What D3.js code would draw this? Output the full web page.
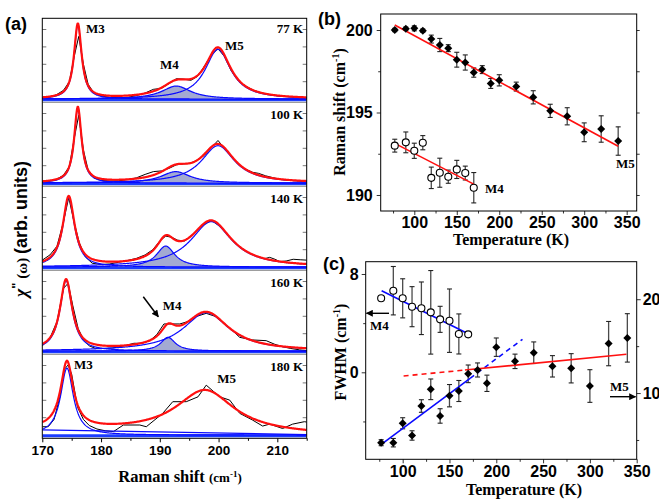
<!DOCTYPE html>
<html><head><meta charset="utf-8">
<script src="https://cdn.jsdelivr.net/npm/d3@7"></script>
<style>body{margin:0;background:#fff}svg{display:block}</style>
</head><body>
<svg id="chart" width="659" height="501"></svg>
<script>
// ---------------- DATA ----------------
// Panel (a): measured spectra [Raman shift, chi'' (arb.)]
const spec77=[[170,0.05],[171.2,0.1],[172.4,0.25],[173.6,0.5],[174.6,1.0],[175.4,2.4],[176.2,3.6],[177,2.0],[177.8,0.85],[178.8,0.35],[180,0.18],[181.5,0.1],[183,0.08],[184.5,0.1],[186,0.2],[187.5,0.35],[188.9,0.56],[190.3,0.62],[191.6,0.9],[192.8,1.17],[194,1.15],[195.3,1.08],[196.4,1.3],[197.5,1.85],[198.7,2.5],[199.9,2.9],[201,2.45],[202.2,1.6],[203.4,1.05],[204.6,0.75],[206,0.5],[207.4,0.35],[208.8,0.25],[210.2,0.18],[211.6,0.15],[213,0.1],[214.4,0.08],[215,0.07]];
const spec100=[[170,0.05],[171.2,0.12],[172.4,0.22],[173.6,0.45],[174.6,0.95],[175.4,2.5],[176.2,3.9],[177,1.9],[177.8,0.75],[178.8,0.3],[180,0.15],[181.5,0.12],[183,0.13],[184.5,0.2],[186,0.3],[187.5,0.5],[188.9,0.66],[190.3,0.7],[191.6,0.85],[192.8,1.05],[194,1.1],[195.3,1.15],[196.5,1.35],[197.6,1.6],[198.8,2.05],[199.9,2.45],[201,2.0],[202.2,1.55],[203.4,1.05],[204.6,0.8],[205.8,0.62],[206.8,0.56],[208,0.42],[209.4,0.3],[210.8,0.2],[212.2,0.16],[213.6,0.12],[215,0.1]];
const spec140=[[170,0.4],[171.3,0.7],[172.5,1.2],[173.6,2.6],[174.5,4.0],[175.4,2.6],[176.3,1.4],[177.3,0.6],[178.5,0.22],[180,0.15],[181.5,0.18],[183,0.28],[184.5,0.38],[186,0.5],[187.5,0.7],[188.8,1.0],[190,1.5],[191,1.78],[192,1.72],[193,1.55],[194.2,1.5],[195.5,1.85],[197,2.35],[198.8,2.68],[200.4,2.3],[202,1.7],[203.5,1.2],[205,0.85],[206.5,0.62],[207.8,0.48],[208.7,0.56],[209.6,0.45],[210.4,0.32],[211.5,0.35],[212.7,0.45],[214,0.42],[215,0.4]];
const spec160=[[170,0.3],[171.3,0.75],[172.5,1.7],[173.6,3.6],[174.4,3.9],[175.2,2.6],[176.1,1.3],[177.1,0.6],[178,0.3],[179,0.16],[180.5,0.15],[182,0.18],[183.9,0.3],[185.6,0.45],[187,0.45],[188.3,0.6],[189.5,0.95],[190.7,1.56],[192,1.56],[193.4,1.56],[194.8,1.7],[196.3,2.0],[197.9,2.17],[199.4,2.0],[200.8,1.65],[202.3,1.2],[203.6,0.79],[205.8,0.64],[208.1,0.6],[209.5,0.4],[210.9,0.25],[212.3,0.15],[213.8,0.07],[215,0.03]];
const spec180=[[170,0.48],[171,0.48],[172,0.9],[173,2.2],[173.8,3.8],[174.4,4.03],[175,3.5],[176,1.6],[177,0.9],[178,0.55],[179.3,0.35],[180.7,0.25],[182.1,0.2],[183.8,0.58],[186.6,0.58],[187.7,0.48],[190.5,1.25],[192.2,1.92],[194.5,1.92],[196.5,2.2],[197.9,2.87],[200.2,2.2],[201.9,2.01],[203.6,1.25],[205.8,0.86],[207.5,0.52],[208.7,0.63],[210.9,0.38],[212.6,0.63],[214.6,0.77],[215,0.75]];
const spectra=[spec77,spec100,spec140,spec160,spec180];
const tempLabels=["77 K","100 K","140 K","160 K","180 K"];
// Lorentzian fit parameters: centre, FWHM, height
const fitM3=[{c:176.05,w:1.55,a:4.3},{c:176.05,w:1.5,a:4.33},{c:174.5,w:2.4,a:4.0},{c:174.05,w:2.5,a:4.05},{c:174.2,w:2.6,a:3.85}];
const fitM4=[{c:192.8,w:6.0,a:0.75},{c:192.7,w:6.0,a:0.66},{c:191.0,w:3.8,a:1.21},{c:191.4,w:3.0,a:0.79},null];
const fitM5=[{c:199.9,w:5.3,a:2.86},{c:199.9,w:6.9,a:2.15},{c:198.76,w:8.5,a:2.61},{c:197.9,w:9.5,a:2.21},{c:197.7,w:12,a:2.45}];
const showM5Component=[true,true,true,true,false];
const fitBg=[[0,0],[0,0],[0,0],[0,0],[0.3,0.03]];
const ramanTicks=[170,180,190,200,210];

// Panel (b): Raman shift vs temperature
const tempM5=[77,90,100,110,120,130,140,150,160,170,180,190,200,220,240,260,280,300,320,340];
const shiftM5=[200.0,200.08,200.1,199.96,199.45,199.09,198.9,198.2,198.03,197.42,197.6,196.76,196.95,196.57,195.92,195.1,194.77,193.8,194.0,193.27];
const shiftM5Err=[0.1,0.1,0.15,0.1,0.24,0.4,0.21,0.45,0.46,0.28,0.24,0.3,0.34,0.27,0.4,0.4,0.52,0.57,0.8,0.86];
const tempM4=[77,90,100,110,120,130,140,150,160,170];
const shiftM4=[192.99,193.19,192.68,193.17,191.04,191.35,191.11,191.55,191.33,190.44];
const shiftM4Err=[0.39,0.63,0.46,0.43,0.65,0.88,0.4,0.55,0.42,0.92];
const shiftFitM5=[[77,200.3],[340,192.95]];
const shiftFitM4=[[77,193.13],[170,190.66]];
const tempTicks=[100,150,200,250,300,350];

// Panel (c): FWHM vs temperature
const fwhmM4=[6.02,6.64,6.02,5.34,5.21,4.88,4.31,4.2,3.12,3.09];
const fwhmM4Err=[0,1.97,1.59,1.63,2.14,3.4,1.06,2.58,1.63,0];
const fwhmM5=[4.71,4.71,6.78,5.48,8.62,10.4,7.56,9.72,10.22,12.05,12.46,11.04,14.89,13.38,14.3,12.85,12.64,10.75,15.27,15.88];
const fwhmM5Err=[0.32,0.45,0.59,0.5,0.67,1.1,0.77,1.19,1.12,0.94,0.75,0.87,0.98,0.77,1.15,1.14,1.56,1.74,2.36,2.58];
const fwhmFitM4=[[77.5,6.64],[170.5,3.12]];
const fwhmFitM5lowSolid=[[76.5,4.47],[172,11.57]];
const fwhmFitM5lowDash=[[172,11.57],[228,15.73]];
const fwhmFitM5highDash=[[101,11.82],[166.5,12.45]];
const fwhmFitM5highSolid=[[166.5,12.45],[339,14.13]];

// ---------------- DRAWING ----------------
const svg=d3.select("#chart");
const defs=svg.append("defs");
const SANS="'Liberation Sans', Arial, sans-serif";
const SERIF="'Liberation Serif', 'Times New Roman', serif";
const RED="#ff1010", BLUE="#0a0aff", BASEBLUE="#1b3cff", SHADE="#a3aad2", GRAY="#4a4a4a";

defs.append("marker").attr("id","arr").attr("viewBox","0 0 10 10").attr("refX",9).attr("refY",5)
  .attr("markerUnits","userSpaceOnUse").attr("markerWidth",9).attr("markerHeight",7).attr("orient","auto")
  .append("path").attr("d","M0,0L10,5L0,10z").attr("fill","#000");

function txt(g,x,y,s,o={}){
  return g.append("text").attr("x",x).attr("y",y).text(s)
    .attr("font-family",o.ff||SERIF).attr("font-weight",o.fw||"bold")
    .attr("font-size",o.fs||13).attr("text-anchor",o.anchor||"start").attr("fill","#000");
}

// ===== Panel (a) =====
const xA=d3.scaleLinear().domain([170,215]).range([42.3,306.7]);
const subTop=18.3, subH=84;
const lor=(p,x)=>p?p.a/(1+Math.pow(2*(x-p.c)/p.w,2)):0;
const grid=d3.range(170,215.0001,0.1);
const gA=svg.append("g");
spectra.forEach((spec,i)=>{
  const t=subTop+subH*i, b=t+subH;
  const y=d3.scaleLinear().domain([-0.184,4.644]).range([b,t]);
  defs.append("clipPath").attr("id","clipA"+i).append("rect")
    .attr("x",xA(170)).attr("y",t).attr("width",xA(215)-xA(170)).attr("height",subH);
  const g=gA.append("g").attr("clip-path",`url(#clipA${i})`);
  const bg=x=>fitBg[i][0]+(fitBg[i][1]-fitBg[i][0])*(x-170)/45;
  const line=d3.line().x(d=>xA(d[0])).y(d=>y(d[1]));
  // thick baseline
  g.append("line").attr("x1",xA(170)).attr("x2",xA(215)).attr("y1",y(-0.04)).attr("y2",y(-0.04))
    .attr("stroke",BASEBLUE).attr("stroke-width",3);
  // shaded M4
  if(fitM4[i]){
    const area=d3.area().x(d=>xA(d)).y0(y(0)).y1(d=>y(lor(fitM4[i],d)));
    g.append("path").attr("d",area(grid)).attr("fill",SHADE);
  }
  // measured data
  g.append("path").attr("d",line(spec)).attr("fill","none").attr("stroke","#000").attr("stroke-width",1);
  // blue components
  [fitM3[i],fitM4[i]].forEach(p=>{ if(!p) return;
    g.append("path").attr("d",line(grid.map(x=>[x,lor(p,x)]))).attr("fill","none").attr("stroke",BLUE).attr("stroke-width",1.2);
  });
  if(showM5Component[i]){
    g.append("path").attr("d",line(grid.map(x=>[x,lor(fitM5[i],x)+bg(x)]))).attr("fill","none").attr("stroke",BLUE).attr("stroke-width",1.2);
  }
  if(fitBg[i][0]!==0){
    g.append("path").attr("d",line([[170,bg(170)],[215,bg(215)]])).attr("fill","none").attr("stroke",BLUE).attr("stroke-width",1.2);
  }
  // red total fit
  g.append("path").attr("d",line(grid.map(x=>[x,lor(fitM3[i],x)+lor(fitM4[i],x)+lor(fitM5[i],x)+bg(x)])))
    .attr("fill","none").attr("stroke",RED).attr("stroke-width",2.2).attr("stroke-linejoin","round");
  // inner ticks
  [1,2,3,4].forEach(v=>{
    gA.append("line").attr("x1",xA(170)).attr("x2",xA(170)+4).attr("y1",y(v)).attr("y2",y(v)).attr("stroke","#555").attr("stroke-width",0.8);
    gA.append("line").attr("x1",xA(215)).attr("x2",xA(215)-4).attr("y1",y(v)).attr("y2",y(v)).attr("stroke","#555").attr("stroke-width",0.8);
  });
  if(i<4) gA.append("line").attr("x1",xA(170)).attr("x2",xA(215)).attr("y1",b).attr("y2",b).attr("stroke","#666").attr("stroke-width",0.8);
  txt(gA,303,t+(i===0?15:16.3),tempLabels[i],{anchor:"end",fs:13});
});
gA.append("rect").attr("x",xA(170)).attr("y",subTop).attr("width",xA(215)-xA(170)).attr("height",subH*5)
  .attr("fill","none").attr("stroke","#000").attr("stroke-width",1);
// x axis
const axA=gA.append("g").attr("transform",`translate(0,${subTop+subH*5})`)
  .call(d3.axisBottom(xA).tickValues(ramanTicks).tickSize(4).tickPadding(3).tickFormat(d3.format("d")));
axA.select(".domain").remove();
axA.selectAll("text").attr("font-family",SANS).attr("font-weight","bold").attr("font-size",13.5).attr("fill","#000");
gA.append("g").attr("transform",`translate(0,${subTop+subH*5})`)
  .call(d3.axisBottom(xA).tickValues([175,185,195,205,215]).tickSize(2.5).tickFormat("")).select(".domain").remove();
// labels in (a)
txt(gA,86,33,"M3");
txt(gA,160,69,"M4");
txt(gA,225,50,"M5");
txt(gA,162.7,310,"M4");
gA.append("line").attr("x1",143.3).attr("y1",296.7).attr("x2",158.3).attr("y2",316.7).attr("stroke","#000").attr("stroke-width",1.5).attr("marker-end","url(#arr)");
txt(gA,74,369.3,"M3");
txt(gA,217.3,382.7,"M5");
// axis titles (a)
const tA=txt(gA,180,481.5,"Raman shift ",{fs:16.5,anchor:"middle"});
tA.append("tspan").attr("font-size",13).text("(cm");
tA.append("tspan").attr("font-size",9).attr("dy",-5).text("-1");
tA.append("tspan").attr("font-size",13).attr("dy",5).text(")");
const yl=gA.append("text").attr("transform","translate(27,229) rotate(-90)").attr("text-anchor","middle")
  .attr("font-family",SANS).attr("font-weight","bold").attr("font-size",18);
yl.append("tspan").attr("font-family",SERIF).attr("font-style","italic").text("χ");
yl.append("tspan").attr("font-size",13).attr("dy",-6).text("\"");
yl.append("tspan").attr("dy",6).attr("font-family",SERIF).attr("font-size",15).text(" (ω) ");
yl.append("tspan").text("(arb. units)");
txt(svg,5,30,"(a)",{ff:SANS,fs:18});

// ===== Panel (b) =====
const xB=d3.scaleLinear().domain([60.45,361.8]).range([380.7,636.7]);
const yB=d3.scaleLinear().domain([189.03,200.97]).range([211,14]);
const gB=svg.append("g");
function styleAxis(sel,fs){ sel.select(".domain").remove();
  sel.selectAll("text").attr("font-family",SANS).attr("font-weight","bold").attr("font-size",fs).attr("fill","#000");
  sel.selectAll("line").attr("stroke","#333");}
styleAxis(gB.append("g").attr("transform","translate(0,211)").call(d3.axisBottom(xB).tickValues(tempTicks).tickSize(4).tickPadding(2)),16);
styleAxis(gB.append("g").attr("transform","translate(0,211)").call(d3.axisBottom(xB).tickValues([75,125,175,225,275,325]).tickSize(2.5).tickFormat("")),16);
styleAxis(gB.append("g").attr("transform","translate(380.7,0)").call(d3.axisLeft(yB).tickValues([190,195,200]).tickSize(4).tickPadding(4)),16);
styleAxis(gB.append("g").attr("transform","translate(380.7,0)").call(d3.axisLeft(yB).tickValues([192.5,197.5]).tickSize(2.5).tickFormat("")),16);
styleAxis(gB.append("g").attr("transform","translate(636.7,0)").call(d3.axisRight(yB).tickValues([190,192.5,195,197.5,200]).tickSize(3).tickFormat("")),16);
gB.append("rect").attr("x",380.7).attr("y",14).attr("width",256).attr("height",197).attr("fill","none").attr("stroke","#000");
const lineB=d3.line().x(d=>xB(d[0])).y(d=>yB(d[1]));
function errBars(g,xs,ys,es,xS,yS){
  xs.forEach((t,k)=>{ if(!es[k]) return;
    const x=xS(t), y1=yS(ys[k]-es[k]), y2=yS(ys[k]+es[k]);
    g.append("line").attr("x1",x).attr("x2",x).attr("y1",y1).attr("y2",y2).attr("stroke",GRAY).attr("stroke-width",1.3);
    [y1,y2].forEach(yy=>g.append("line").attr("x1",x-2.5).attr("x2",x+2.5).attr("y1",yy).attr("y2",yy).attr("stroke","#222").attr("stroke-width",1.1));
  });
}
errBars(gB,tempM5,shiftM5,shiftM5Err,xB,yB);
errBars(gB,tempM4,shiftM4,shiftM4Err,xB,yB);
gB.append("path").attr("d",lineB(shiftFitM5)).attr("stroke",RED).attr("stroke-width",1.6).attr("fill","none");
gB.append("path").attr("d",lineB(shiftFitM4)).attr("stroke",RED).attr("stroke-width",1.6).attr("fill","none");
const dia=d3.symbol().type(d3.symbolSquare).size(32);
function diamonds(g,xs,ys,xS,yS){ xs.forEach((t,k)=>g.append("path").attr("d",dia())
  .attr("transform",`translate(${xS(t)},${yS(ys[k])}) rotate(45)`).attr("fill","#000")); }
function circles(g,xs,ys,xS,yS){ xs.forEach((t,k)=>g.append("circle").attr("cx",xS(t)).attr("cy",yS(ys[k])).attr("r",3.5)
  .attr("fill","#fff").attr("stroke","#000").attr("stroke-width",1.1)); }
diamonds(gB,tempM5,shiftM5,xB,yB);
circles(gB,tempM4,shiftM4,xB,yB);
txt(gB,616,168,"M5",{fs:13});
txt(gB,485,192.5,"M4",{fs:13});
txt(gB,511,244.5,"Temperature (K)",{fs:16,anchor:"middle"});
const ylB=gB.append("text").attr("transform","translate(345,112) rotate(-90)").attr("text-anchor","middle")
  .attr("font-family",SERIF).attr("font-weight","bold").attr("font-size",16).text("Raman shift (cm");
ylB.append("tspan").attr("font-size",10).attr("dy",-6).text("-1");
ylB.append("tspan").attr("dy",6).text(")");
txt(svg,318,25,"(b)",{ff:SANS,fs:18});

// ===== Panel (c) =====
const xC=d3.scaleLinear().domain([60.5,350]).range([365.7,636.7]);
const yCL=d3.scaleLinear().domain([-7.08,9.0]).range([459.3,261.7]);
const yCR=d3.scaleLinear().domain([2.94,24.0]).range([459.3,261.7]);
const gC=svg.append("g");
styleAxis(gC.append("g").attr("transform","translate(0,459.3)").call(d3.axisBottom(xC).tickValues(tempTicks).tickSize(4).tickPadding(2)),16);
styleAxis(gC.append("g").attr("transform","translate(0,459.3)").call(d3.axisBottom(xC).tickValues([75,125,175,225,275,325]).tickSize(2.5).tickFormat("")),16);
styleAxis(gC.append("g").attr("transform","translate(365.7,0)").call(d3.axisLeft(yCL).tickValues([0,8]).tickSize(4).tickPadding(3)),16);
styleAxis(gC.append("g").attr("transform","translate(365.7,0)").call(d3.axisLeft(yCL).tickValues([-4,4]).tickSize(2.5).tickFormat("")),16);
styleAxis(gC.append("g").attr("transform","translate(636.7,0)").call(d3.axisRight(yCR).tickValues([10,20]).tickSize(4).tickPadding(2)),16);
styleAxis(gC.append("g").attr("transform","translate(636.7,0)").call(d3.axisRight(yCR).tickValues([5,15]).tickSize(2.5).tickFormat("")),16);
gC.append("rect").attr("x",365.7).attr("y",261.7).attr("width",271).attr("height",197.6).attr("fill","none").attr("stroke","#000");
errBars(gC,tempM4,fwhmM4,fwhmM4Err,xC,yCL);
errBars(gC,tempM5,fwhmM5,fwhmM5Err,xC,yCR);
const lineCL=d3.line().x(d=>xC(d[0])).y(d=>yCL(d[1]));
const lineCR=d3.line().x(d=>xC(d[0])).y(d=>yCR(d[1]));
gC.append("path").attr("d",lineCL(fwhmFitM4)).attr("stroke",BLUE).attr("stroke-width",1.6).attr("fill","none");
gC.append("path").attr("d",lineCR(fwhmFitM5lowSolid)).attr("stroke",BLUE).attr("stroke-width",1.6).attr("fill","none");
gC.append("path").attr("d",lineCR(fwhmFitM5lowDash)).attr("stroke",BLUE).attr("stroke-width",1.6).attr("fill","none").attr("stroke-dasharray","5,4");
gC.append("path").attr("d",lineCR(fwhmFitM5highDash)).attr("stroke",RED).attr("stroke-width",1.6).attr("fill","none").attr("stroke-dasharray","5,4");
gC.append("path").attr("d",lineCR(fwhmFitM5highSolid)).attr("stroke",RED).attr("stroke-width",1.6).attr("fill","none");
circles(gC,tempM4,fwhmM4,xC,yCL);
diamonds(gC,tempM5,fwhmM5,xC,yCR);
txt(gC,370,330,"M4",{fs:13});
gC.append("line").attr("x1",389).attr("y1",313.3).attr("x2",366.5).attr("y2",313.3).attr("stroke","#000").attr("stroke-width",1.4).attr("marker-end","url(#arr)");
txt(gC,610,391,"M5",{fs:13});
gC.append("line").attr("x1",610).attr("y1",396.7).attr("x2",635.5).attr("y2",396.7).attr("stroke","#000").attr("stroke-width",1.4).attr("marker-end","url(#arr)");
txt(gC,524,495,"Temperature (K)",{fs:16,anchor:"middle"});
const ylC=gC.append("text").attr("transform","translate(346,352) rotate(-90)").attr("text-anchor","middle")
  .attr("font-family",SERIF).attr("font-weight","bold").attr("font-size",16).text("FWHM (cm");
ylC.append("tspan").attr("font-size",10).attr("dy",-6).text("-1");
ylC.append("tspan").attr("dy",6).text(")");
txt(svg,323,270,"(c)",{ff:SANS,fs:18});
</script>
</body></html>
